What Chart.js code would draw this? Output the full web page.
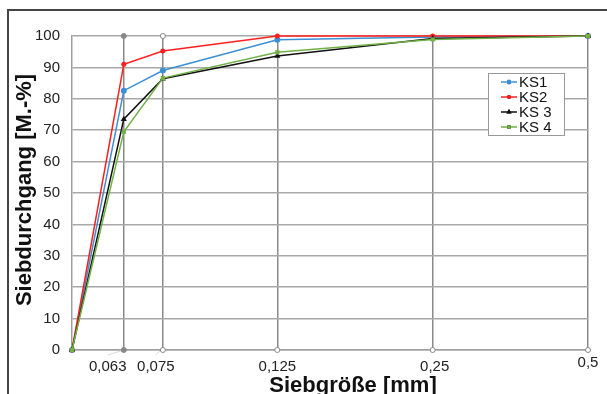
<!DOCTYPE html>
<html>
<head>
<meta charset="utf-8">
<script src="https://cdn.jsdelivr.net/npm/chart.js@4"></script>
<style>
  html, body { margin: 0; padding: 0; background: #fff; }
  #wrap { position: relative; width: 607px; height: 394px; overflow: hidden; }
  #frame { position: absolute; left: 7px; top: 9px; width: 700px; height: 500px; border: 2px solid #444; }
  #chart { position: absolute; left: 0; top: 0; }
</style>
</head>
<body>
<div id="wrap">
  <div id="frame"></div>
  <canvas id="chart" width="607" height="394"></canvas>
</div>
<script>
// sieve sizes in mm (first point is the axis start)
const sieveSizes = [0.05, 0.063, 0.075, 0.125, 0.25, 0.5];
const ks1 = [0, 82.6, 89.0, 98.8, 99.7, 100];
const ks2 = [0, 91.0, 95.2, 100, 100, 100];
const ks3 = [0, 73.5, 86.4, 93.6, 99.2, 100];
const ks4 = [0, 69.5, 86.6, 94.8, 98.9, 100];

const tickSizes = [0.063, 0.075, 0.125, 0.25, 0.5];
const tickLabels = ["0,063", "0,075", "0,125", "0,25", "0,5"];
const dropTop = [0.063, 0.075];

const seriesNames = ["KS1", "KS2", "KS 3", "KS 4"];
const xTitle = "Siebgröße [mm]";
const yTitle = "Siebdurchgang [M.-%]";

const font = "'Liberation Sans', Arial, sans-serif";

// label nudges (data labels in the original sit off-centre)
const labelShiftX = [-16, -7, 0, 2, 0];
const labelShiftY = [0, 0, 0, 0, -4];

function pts(ys) {
    return sieveSizes.map((x, i) => ({ x: x, y: ys[i] }));
}

let markers = [];
let markerFill = [];
dropTop.forEach(function (x, i) {
    markers.push({ x: x, y: 100 });
    markerFill.push(i == 0 ? "#888" : "#fff");
});
tickSizes.forEach(function (x, i) {
    markers.push({ x: x, y: 0 });
    markerFill.push(i == 0 ? "#888" : "#fff");
});

const datasets = [
    { label: seriesNames[0], data: pts(ks1), borderColor: "#3b8fd4", backgroundColor: "#3b8fd4",
      pointStyle: "circle", pointRadius: 3, order: 3 },
    { label: seriesNames[1], data: pts(ks2), borderColor: "#ff1f1f", backgroundColor: "#ff1f1f",
      pointStyle: "circle", pointRadius: 2.5, order: 2 },
    { label: seriesNames[2], data: pts(ks3), borderColor: "#111", backgroundColor: "#111",
      pointStyle: "triangle", pointRadius: 3.5, order: 1 },
    { label: seriesNames[3], data: pts(ks4), borderColor: "#72b146", backgroundColor: "#72b146",
      pointStyle: "rect", pointRadius: 3, order: 0 },
];
datasets.forEach(function (d) {
    d.borderWidth = 1.5;
    d.pointBorderWidth = 0;
    d.clip = false;
    d.showLine = true;
});
datasets.push({
    label: "drop", data: markers, showLine: false, clip: false, order: 9,
    pointRadius: 2.5, pointBorderWidth: 1, pointBorderColor: "#888",
    pointBackgroundColor: markerFill
});

const overlay = {
    id: "overlay",
    afterDraw(chart) {
        const ctx = chart.ctx;
        const area = chart.chartArea;
        const xs = chart.scales.x;
        ctx.save();

        // x labels with their small leader lines
        ctx.font = "15px " + font;
        ctx.textAlign = "center";
        ctx.textBaseline = "middle";
        tickSizes.forEach(function (v, i) {
            const px = xs.getPixelForValue(v);
            const lx = px + labelShiftX[i];
            const ly = area.bottom + 17 + labelShiftY[i];
            if (labelShiftX[i] < -3) {
                ctx.strokeStyle = "#d8d8d8";
                ctx.lineWidth = 1;
                ctx.beginPath();
                ctx.moveTo(lx, area.bottom + 5);
                ctx.lineTo(px - 3, area.bottom + 1);
                ctx.stroke();
            }
            ctx.fillStyle = "#222";
            ctx.fillText(tickLabels[i], lx, ly);
        });

        // axis titles
        ctx.fillStyle = "#111";
        ctx.font = "bold 22px " + font;
        ctx.textAlign = "center";
        ctx.textBaseline = "alphabetic";
        ctx.fillText(xTitle, 353, 392);
        ctx.save();
        ctx.translate(31, (area.top + area.bottom) / 2 - 3);
        ctx.rotate(-Math.PI / 2);
        ctx.fillText(yTitle, 0, 0);
        ctx.restore();

        // legend box
        const bx = 488, by = 73, bw = 76, bh = 62;
        ctx.fillStyle = "#fff";
        ctx.fillRect(bx, by, bw, bh);
        ctx.strokeStyle = "#999";
        ctx.lineWidth = 1;
        ctx.strokeRect(bx + 0.5, by + 0.5, bw, bh);
        ctx.font = "15px " + font;
        ctx.textAlign = "left";
        ctx.textBaseline = "middle";
        for (let i = 0; i < 4; i++) {
            const ds = chart.data.datasets[i];
            const y = by + 9 + i * 15;
            ctx.strokeStyle = ds.borderColor;
            ctx.lineWidth = 1.5;
            ctx.beginPath();
            ctx.moveTo(501, y);
            ctx.lineTo(517, y);
            ctx.stroke();
            Chart.helpers.drawPoint(ctx, {
                pointStyle: ds.pointStyle, radius: ds.pointRadius - 0.5, rotation: 0, borderWidth: 0
            }, 509, y);
            ctx.fillStyle = ds.borderColor;
            ctx.fill();
            ctx.fillStyle = "#111";
            ctx.fillText(ds.label, 519, y + 1);
        }
        ctx.restore();
    }
};

new Chart(document.getElementById("chart").getContext("2d"), {
    type: "line",
    data: { datasets: datasets },
    plugins: [overlay],
    options: {
        responsive: false,
        animation: false,
        layout: { padding: { left: 0, top: 36, right: 19, bottom: 0 } },
        plugins: { legend: { display: false }, tooltip: { enabled: false } },
        scales: {
            x: {
                type: "logarithmic",
                min: 0.05,
                max: 0.5,
                afterBuildTicks(scale) {
                    scale.ticks = tickSizes.map(v => ({ value: v }));
                },
                afterFit(scale) { scale.height = 44; },
                ticks: {
                    display: false,
                    autoSkip: false,
                    maxRotation: 0
                },
                grid: { color: "#8a8a8a", lineWidth: 1.5, drawTicks: false },
                border: { color: "#a0a0a0", width: 1.5 }
            },
            y: {
                min: 0,
                max: 100,
                afterFit(scale) { scale.width = 72; },
                ticks: {
                    stepSize: 10,
                    padding: 12,
                    color: "#222",
                    font: { family: font, size: 15 }
                },
                grid: { color: "#a8a8a8", lineWidth: 1.5, drawTicks: false },
                border: { color: "#a0a0a0", width: 1.5 }
            }
        }
    }
});
</script>
</body>
</html>
